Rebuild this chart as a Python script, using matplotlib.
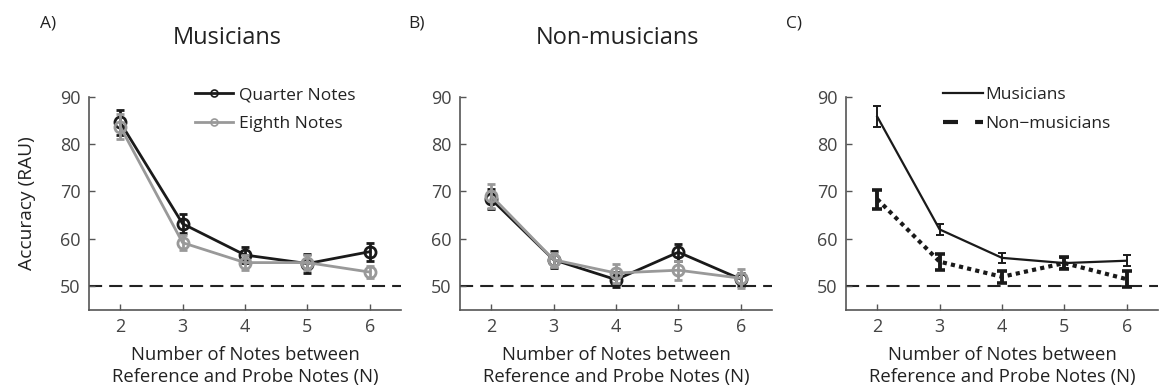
import matplotlib
matplotlib.use("Agg")
import matplotlib.pyplot as plt
from matplotlib.lines import Line2D

plt.rcParams['font.family'] = ['Open Sans', 'DejaVu Sans']

n_notes = [2, 3, 4, 5, 6]

# Panel A: Musicians
mus_quarter = [84.6, 63.2, 56.6, 54.8, 57.3]
mus_quarter_err = [2.6, 2.0, 1.6, 2.0, 1.9]
mus_eighth = [83.7, 59.2, 55.0, 55.0, 53.0]
mus_eighth_err = [2.6, 1.6, 1.5, 1.6, 1.2]

# Panel B: Non-musicians
non_quarter = [68.4, 55.6, 51.4, 57.2, 51.5]
non_quarter_err = [2.1, 1.8, 1.6, 1.8, 1.4]
non_eighth = [69.1, 55.6, 52.8, 53.4, 51.7]
non_eighth_err = [2.5, 1.5, 2.0, 2.0, 2.0]

# Panel C: group averages
avg_mus = [85.8, 62.0, 56.0, 54.9, 55.4]
avg_mus_err = [2.2, 1.1, 1.1, 1.0, 1.2]
avg_non = [68.4, 55.2, 52.0, 54.9, 51.5]
avg_non_err = [2.0, 1.7, 1.2, 1.2, 1.7]

titles = ["Musicians", "Non-musicians", ""]
panel_labels = ["A)", "B)", "C)"]
legend_A = ["Quarter Notes", "Eighth Notes"]
legend_C = ["Musicians", "Non\u2212musicians"]
xlabel = "Number of Notes between\nReference and Probe Notes (N)"
ylabel = "Accuracy (RAU)"
chance = 50

BLACK = "#1a1a1a"
GRAY = "#999999"
AXC = "#555555"

fig = plt.figure(figsize=(11.61, 3.87), dpi=100)
W, H = 1161, 387
lefts = [89, 460, 846]
width = 312
top_px, bot_px = 96.7, 310
title_x = [227, 618, 0]
label_x = [48, 416, 794]
axes = []
for l in lefts:
    ax = fig.add_axes([l / W, 1 - bot_px / H, width / W, (bot_px - top_px) / H])
    axes.append(ax)

for i, ax in enumerate(axes):
    ax.set_xlim(1.5, 6.5)
    ax.set_ylim(45, 90)
    ax.set_xticks(n_notes)
    ax.set_yticks([50, 60, 70, 80, 90])
    for s in ["top", "right"]:
        ax.spines[s].set_visible(False)
    for s in ["left", "bottom"]:
        ax.spines[s].set_color(AXC)
        ax.spines[s].set_linewidth(1.2)
    ax.tick_params(direction="in", length=4, width=1, colors=AXC, labelsize=13,
                   labelcolor="#444444", pad=6)
    ax.axhline(chance, color="#222222", lw=1.5, ls=(0, (6.3, 3.4)), zorder=1)
    ax.set_xlabel(xlabel, fontsize=13.3, color="#222222", linespacing=1.3, labelpad=7)
    fig.text(label_x[i] / W, 1 - 24 / H, panel_labels[i], fontsize=12.5,
             color="#222222", ha="center", va="center")
    if titles[i]:
        fig.text(title_x[i] / W, 1 - 38 / H, titles[i], fontsize=17,
                 color="#222222", ha="center", va="center")

axes[0].set_ylabel(ylabel, fontsize=13.8, color="#222222", labelpad=17)

def two_series(ax, a, ae, b, be):
    ax.errorbar(n_notes, a, yerr=ae, color=BLACK, lw=2, marker="o", ms=8, mfc="none",
                mew=2, capsize=3, capthick=2, elinewidth=2, zorder=3)
    ax.errorbar(n_notes, b, yerr=be, color=GRAY, lw=2, marker="o", ms=8, mfc="none",
                mew=2, capsize=3, capthick=2, elinewidth=2, zorder=4)

two_series(axes[0], mus_quarter, mus_quarter_err, mus_eighth, mus_eighth_err)
two_series(axes[1], non_quarter, non_quarter_err, non_eighth, non_eighth_err)

leg_kw = dict(loc="upper left", frameon=False, fontsize=12.5, handlelength=2.2,
              handletextpad=0.35, labelspacing=0.72, labelcolor="#222222",
              borderaxespad=0, borderpad=0)
hA = [Line2D([], [], color=BLACK, lw=2, marker="o", ms=5, mfc="none", mew=1.2),
      Line2D([], [], color=GRAY, lw=2, marker="o", ms=5, mfc="none", mew=1.2)]
axes[0].legend(hA, legend_A, bbox_to_anchor=((195 - 89) / width, 1.045), **leg_kw)

axC = axes[2]
axC.errorbar(n_notes, avg_mus, yerr=avg_mus_err, color=BLACK, lw=1.6, capsize=3,
             capthick=1.4, elinewidth=1.4, zorder=3)
axC.errorbar(n_notes, avg_non, yerr=avg_non_err, color=BLACK, lw=3, ls=(0, (1, 1)),
             capsize=3.5, capthick=2.6, elinewidth=2.8, zorder=3)
hC = [Line2D([], [], color=BLACK, lw=1.6),
      Line2D([], [], color=BLACK, lw=3, ls=(0, (3.6, 4.1)))]
kwC = dict(leg_kw)
kwC["handlelength"] = 2.3
kwC["handletextpad"] = 0.15
axC.legend(hC, legend_C, bbox_to_anchor=((943 - 846) / width, 1.045), **kwC)

fig.savefig("out.png", dpi=100)
